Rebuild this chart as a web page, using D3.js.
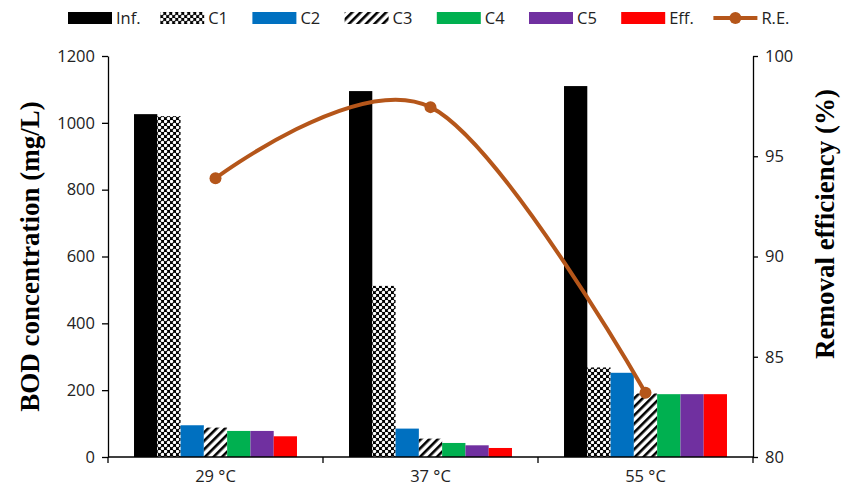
<!DOCTYPE html>
<html>
<head>
<meta charset="utf-8">
<script src="https://cdn.jsdelivr.net/npm/d3@7"></script>
<style>
  body { margin: 0; background: #fff; }
  .tick text { font-family: "Open Sans", sans-serif; font-size: 16.5px; fill: #222; }
  .axis path, .axis line { stroke: #000; stroke-width: 1.3; }
  .title { font-family: "Liberation Serif", serif; font-weight: bold; font-size: 27px; fill: #000; }
  .legend text { font-family: "Open Sans", sans-serif; font-size: 16.5px; fill: #222; }
</style>
</head>
<body>
<svg class="chart"></svg>
<script>
var width = 843;
var height = 495;

// data
var temps = ["29 °C", "37 °C", "55 °C"];
var series = ["Inf.", "C1", "C2", "C3", "C4", "C5", "Eff."];
var inf = [1026, 1095, 1110];
var c1 = [1020, 512, 268];
var c2 = [95, 85, 252];
var c3 = [88, 55, 190];
var c4 = [78, 42, 188];
var c5 = [78, 35, 188];
var eff = [62, 27, 188];
var removal = [93.9, 97.45, 83.2];
var leftTicks = [0, 200, 400, 600, 800, 1000, 1200];
var rightTicks = [80, 85, 90, 95, 100];

var values = [inf, c1, c2, c3, c4, c5, eff];
var fills = ["#000000", "url(#checks)", "#0070C0", "url(#stripes)", "#00B050", "#7030A0", "#FF0000"];
var lineColor = "#B5561A";

var margin = {top: 56, right: 90, bottom: 38, left: 108};
var x0 = d3.scaleBand().domain(temps).range([margin.left, width - margin.right])
    .paddingInner(0.242).paddingOuter(0.121);
var x1 = d3.scaleBand().domain(series).range([0, x0.bandwidth()]);
var y = d3.scaleLinear().domain([0, 1200]).range([height - margin.bottom, margin.top]);
var y2 = d3.scaleLinear().domain([80, 100]).range([height - margin.bottom, margin.top]);

var chart = d3.select(".chart").attr("width", width).attr("height", height);

// fill patterns for C1 and C3
var defs = chart.append("defs");
var pc = defs.append("pattern").attr("id", "checks").attr("patternUnits", "userSpaceOnUse")
    .attr("width", 6).attr("height", 6);
pc.append("rect").attr("width", 6).attr("height", 6).attr("fill", "#000");
pc.append("circle").attr("cx", 1.5).attr("cy", 1.5).attr("r", 1.7).attr("fill", "#fff");
pc.append("circle").attr("cx", 4.5).attr("cy", 4.5).attr("r", 1.7).attr("fill", "#fff");

var ps = defs.append("pattern").attr("id", "stripes").attr("patternUnits", "userSpaceOnUse")
    .attr("width", 6).attr("height", 6).attr("patternTransform", "rotate(45)");
ps.append("rect").attr("width", 6).attr("height", 6).attr("fill", "#fff");
ps.append("rect").attr("width", 2.6).attr("height", 6).attr("fill", "#000");

// bars
var groups = chart.append("g").selectAll("g")
    .data(temps)
    .enter().append("g")
    .attr("transform", function(d) { return "translate(" + x0(d) + ",0)"; });

groups.selectAll("rect")
    .data(function(d, i) {
        return series.map(function(s, j) { return {key: s, value: values[j][i], fill: fills[j]}; });
    })
    .enter().append("rect")
    .attr("x", function(d) { return x1(d.key); })
    .attr("width", x1.bandwidth())
    .attr("y", function(d) { return y(d.value); })
    .attr("height", function(d) { return y(0) - y(d.value); })
    .attr("fill", function(d) { return d.fill; });

// axes
chart.append("g").attr("class", "axis")
    .attr("transform", "translate(" + margin.left + ",0)")
    .call(d3.axisLeft(y).tickValues(leftTicks).tickFormat(d3.format("d"))
        .tickSize(6).tickSizeOuter(0).tickPadding(7));

chart.append("g").attr("class", "axis")
    .attr("transform", "translate(" + (width - margin.right) + ",0)")
    .call(d3.axisRight(y2).tickValues(rightTicks).tickSize(5).tickSizeOuter(0).tickPadding(7));

var xAxis = chart.append("g").attr("class", "axis")
    .attr("transform", "translate(0," + y(0) + ")")
    .call(d3.axisBottom(x0).tickSize(0).tickPadding(13));
xAxis.select(".domain").attr("d", "M" + margin.left + ",0H" + (width - margin.right));

var bounds = temps.map(function(d) { return x0(d) - x0.step() * 0.121; });
bounds.push(width - margin.right);
xAxis.selectAll("line.bound")
    .data(bounds)
    .enter().append("line")
    .attr("class", "bound")
    .attr("x1", function(d) { return d; })
    .attr("x2", function(d) { return d; })
    .attr("y1", 0).attr("y2", 6);

// removal efficiency line
var pts = temps.map(function(d, i) { return [x0(d) + x0.bandwidth() / 2, y2(removal[i])]; });
chart.append("path")
    .datum(pts)
    .attr("fill", "none")
    .attr("stroke", lineColor)
    .attr("stroke-width", 4)
    .attr("d", d3.line().curve(d3.curveCardinal));
chart.append("g").selectAll("circle")
    .data(pts)
    .enter().append("circle")
    .attr("cx", function(d) { return d[0]; })
    .attr("cy", function(d) { return d[1]; })
    .attr("r", 6)
    .attr("fill", lineColor);

// axis titles
chart.append("text").attr("class", "title")
    .attr("transform", "translate(39," + ((y(0) + y(1200)) / 2) + ") rotate(-90)")
    .attr("text-anchor", "middle")
    .text("BOD concentration (mg/L)");
chart.append("text").attr("class", "title")
    .attr("transform", "translate(834,224) rotate(-90)")
    .attr("text-anchor", "middle")
    .text("Removal efficiency (%)");

// legend
var legendItems = series.concat(["R.E."]);
var legendFills = fills.concat([null]);
var legend = chart.append("g").attr("class", "legend").selectAll("g")
    .data(legendItems)
    .enter().append("g")
    .attr("transform", function(d, i) { return "translate(" + (68 + i * 92.2) + ",18)"; });

legend.filter(function(d, i) { return legendFills[i]; })
    .append("rect")
    .attr("x", 0).attr("y", -6)
    .attr("width", 44).attr("height", 12)
    .attr("fill", function(d) { return legendFills[legendItems.indexOf(d)]; });

var reItem = legend.filter(function(d) { return d === "R.E."; });
reItem.append("line")
    .attr("x1", 0).attr("x2", 44).attr("y1", 0).attr("y2", 0)
    .attr("stroke", lineColor).attr("stroke-width", 4);
reItem.append("circle")
    .attr("cx", 22).attr("cy", 0).attr("r", 6).attr("fill", lineColor);

legend.append("text")
    .attr("x", 48).attr("y", 0).attr("dy", "0.35em")
    .text(function(d) { return d; });
</script>
</body>
</html>
